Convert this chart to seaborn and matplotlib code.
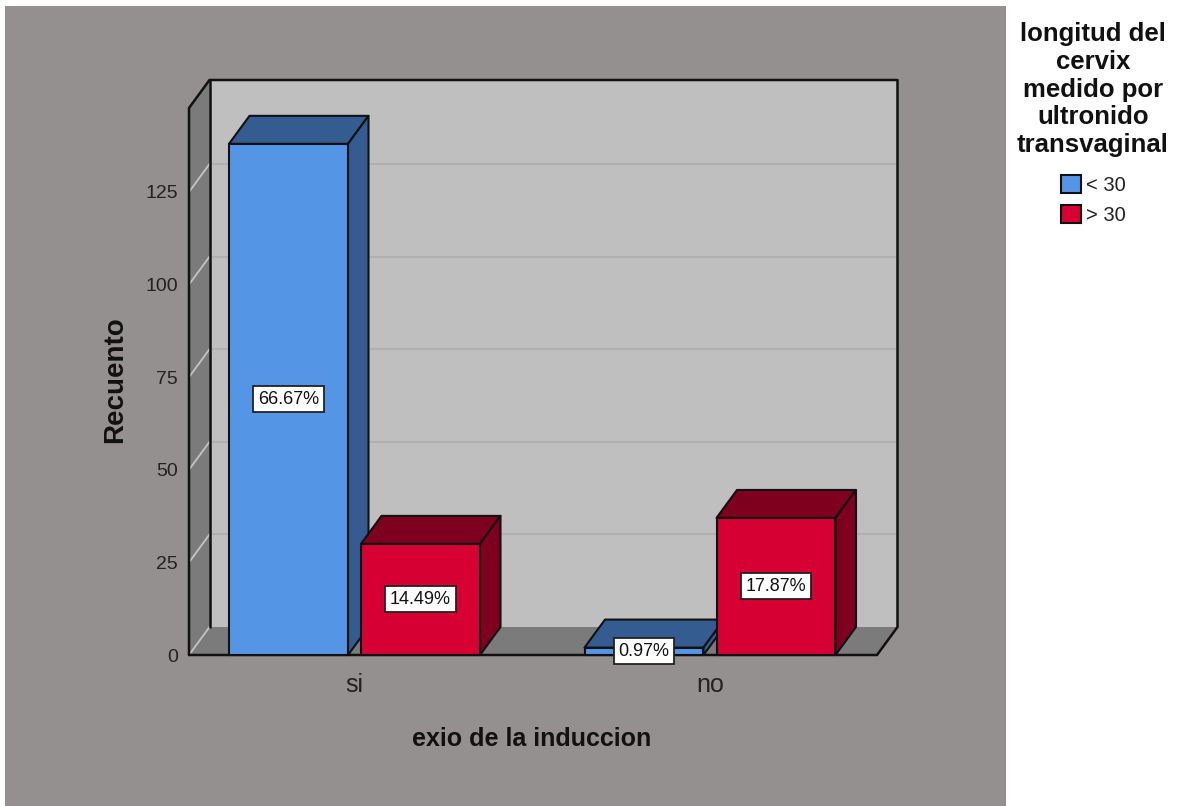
import matplotlib
matplotlib.use("Agg")
import matplotlib.pyplot as plt
from matplotlib.patches import Polygon, Rectangle, Patch
import pandas as pd
import seaborn as sns

categories = ["si", "no"]
groups = ["< 30", "> 30"]
counts_lt30 = [138, 2]
counts_gt30 = [30, 37]
percent_lt30 = ["66.67%", "0.97%"]
percent_gt30 = ["14.49%", "17.87%"]
y_ticks = [0, 25, 50, 75, 100, 125]

BLUE, BLUE_D = "#5595E6", "#345C90"
RED, RED_D = "#D60032", "#7E001E"
PANEL, WALL, SIDE = "#94908F", "#BFBFBF", "#7B7B7B"
SANS = ["Liberation Sans"]

sns.set_theme(style="white")
W, H = 1177, 806
fig = plt.figure(figsize=(W / 100, H / 100), dpi=100, facecolor="white")
fig.patches.append(Rectangle((5 / W, 0), 1001 / W, 1 - 6 / H, transform=fig.transFigure,
                             facecolor=PANEL, edgecolor="none", zorder=-10))

L, R, T, B = 189, 877, 108, 655
ax = fig.add_axes([L / W, 1 - B / H, (R - L) / W, (B - T) / H])
ax.patch.set_alpha(0)

df = pd.DataFrame({
    "cat": categories * 2,
    "grp": [groups[0]] * 2 + [groups[1]] * 2,
    "n": counts_lt30 + counts_gt30,
})
sns.barplot(data=df, x="cat", y="n", hue="grp", order=categories, hue_order=groups,
            palette=[BLUE, RED], width=0.7426, gap=0.0985, dodge=True, legend=False,
            saturation=1, ax=ax)

px_x, px_y = 355.5, 3.704
ax.set_xlim((L - 354.5) / px_x, (R - 354.5) / px_x)
ax.set_ylim(0, (B - T) / px_y)
dx, dy = 20.5 / px_x, 28 / px_y
x0, x1 = ax.get_xlim()
y1 = ax.get_ylim()[1]

# walls and floor of the 3D box
kw = dict(clip_on=False, linewidth=0)
ax.add_patch(Polygon([(x0 + dx, dy), (x1 + dx, dy), (x1 + dx, y1 + dy), (x0 + dx, y1 + dy)],
                     facecolor=WALL, zorder=0.5, **kw))
ax.add_patch(Polygon([(x0, 0), (x0 + dx, dy), (x0 + dx, y1 + dy), (x0, y1)],
                     facecolor=SIDE, zorder=0.5, **kw))
ax.add_patch(Polygon([(x0, 0), (x1, 0), (x1 + dx, dy), (x0 + dx, dy)],
                     facecolor=SIDE, zorder=0.6, **kw))
for v in y_ticks:
    if v:
        ax.plot([x0 + dx, x1 + dx], [v + dy, v + dy], color="#B0B0B0", lw=1.5, zorder=0.7, clip_on=False)
    ax.plot([x0, x0 + dx], [v, v + dy], color="#C4C4C4", lw=1.3, zorder=0.7, clip_on=False)
line = dict(color="#111111", lw=1.8, clip_on=False, zorder=0.8, solid_capstyle="round")
ax.plot([x0, x1, x1 + dx, x1 + dx, x0 + dx, x0, x0], [0, 0, dy, y1 + dy, y1 + dy, y1, 0], **line)
ax.plot([x0 + dx, x0 + dx], [dy, y1 + dy], **line)

# 3D bars
bars = []
for container, dark, pct in zip(ax.containers, [BLUE_D, RED_D], [percent_lt30, percent_gt30]):
    for rect, label in zip(container, pct):
        bars.append((rect, dark, label))
bars.sort(key=lambda b: b[0].get_x())
for i, (rect, dark, label) in enumerate(bars):
    x, w, h = rect.get_x(), rect.get_width(), rect.get_height()
    z = 2 + i * 0.1
    side = dict(facecolor=dark, edgecolor="#111111", linewidth=1.5, joinstyle="round",
                clip_on=False, zorder=z)
    ax.add_patch(Polygon([(x, h), (x + w, h), (x + w + dx, h + dy), (x + dx, h + dy)], **side))
    ax.add_patch(Polygon([(x + w, 0), (x + w + dx, dy), (x + w + dx, h + dy), (x + w, h)], **side))
    rect.set(edgecolor="#111111", linewidth=1.5, zorder=z + 0.01, clip_on=False)
    ax.text(x + w / 2, h / 2, label, ha="center", va="center", fontsize=13, family=SANS,
            color="#111111", zorder=5,
            bbox=dict(facecolor="white", edgecolor="#222222", linewidth=1.3, boxstyle="square,pad=0.25"))

for s in ax.spines.values():
    s.set_visible(False)
ax.set_yticks(y_ticks)
ax.tick_params(axis="both", length=0)
ax.tick_params(axis="y", pad=8, labelsize=14, labelcolor="#222222")
ax.tick_params(axis="x", pad=13, labelsize=18, labelcolor="#222222")
for t in ax.get_yticklabels() + ax.get_xticklabels():
    t.set_family(SANS)
ax.set_xlabel("exio de la induccion", fontsize=18, fontweight="bold", family=SANS, color="#111111")
ax.set_ylabel("Recuento", fontsize=20, fontweight="bold", family=SANS, color="#111111")
ax.xaxis.set_label_coords(0.498, -(739 - B) / (B - T), transform=ax.transAxes)
ax.xaxis.label.set_verticalalignment("center")
ax.yaxis.set_label_coords((115 - L) / (R - L), 0.503, transform=ax.transAxes)
ax.yaxis.label.set_verticalalignment("center")

handles = [Patch(facecolor=BLUE, edgecolor="#111111", linewidth=1.5, label=groups[0]),
           Patch(facecolor=RED, edgecolor="#111111", linewidth=1.5, label=groups[1])]
leg = fig.legend(handles=handles, title="longitud del\ncervix\nmedido por\nultronido\ntransvaginal",
                 loc="upper center", bbox_to_anchor=(1093 / W, 1 - 22 / H), alignment="center",
                 frameon=False, handlelength=1.0, handleheight=1.0, handletextpad=0.25,
                 labelspacing=0.47, borderpad=0, borderaxespad=0,
                 prop={"family": SANS, "size": 14.5})
leg.get_title().set(family=SANS, fontsize=18.5, fontweight="bold", linespacing=1.2,
                    multialignment="center", color="#111111")
leg._legend_box.sep = 13
for t in leg.get_texts():
    t.set_color("#222222")

fig.savefig("out.png", dpi=100, facecolor="white")
